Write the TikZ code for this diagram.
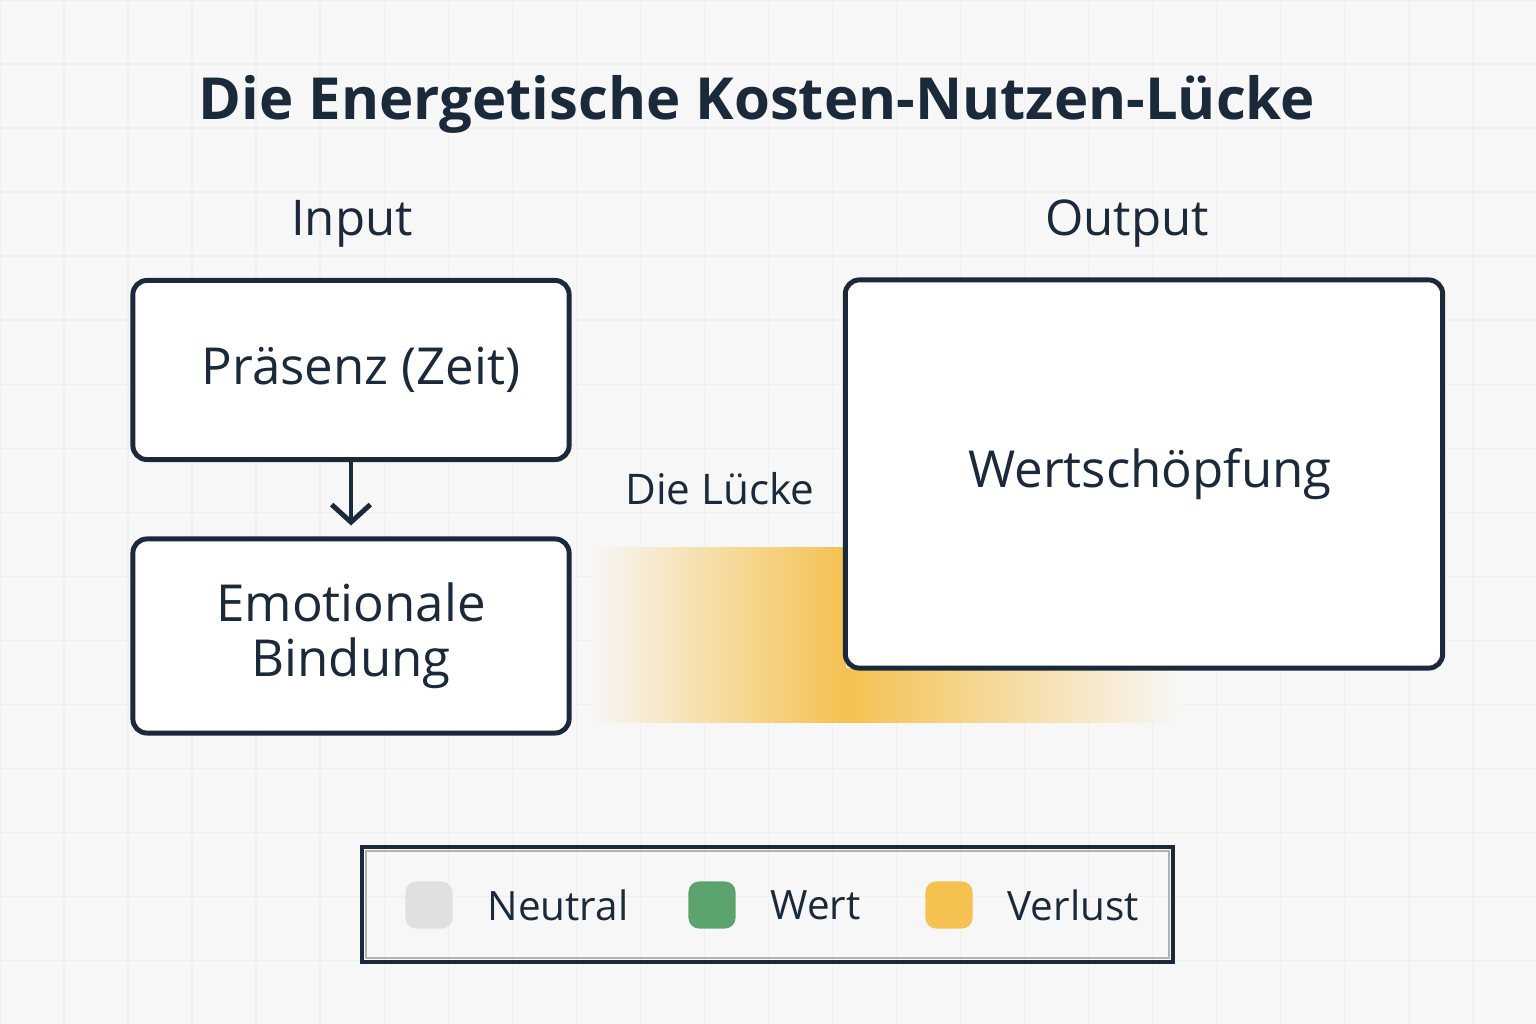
\documentclass[tikz,border=0pt]{standalone}
\usepackage{fontspec}
\setmainfont{Open Sans}
\usetikzlibrary{positioning, arrows.meta}
\definecolor{ink}{HTML}{1B2A3A}
\definecolor{bg}{HTML}{F7F7F7}
\definecolor{loss}{HTML}{F5C150}
\definecolor{gain}{HTML}{5BA46E}
\definecolor{neutral}{HTML}{E0E0E0}
\tikzset{
  box/.style={draw=ink, line width=1.4pt, rounded corners=4pt, fill=white, align=center, text=ink, font=\fontsize{14.5}{15.5}\selectfont},
  head/.style={text=ink, font=\fontsize{14}{17}\selectfont},
  key/.style={minimum size=0.47cm, rounded corners=3pt, inner sep=0pt},
  keytext/.style={text=ink, font=\fontsize{11.5}{14}\selectfont, anchor=west}
}
\begin{document}
\begin{tikzpicture}[x=0.01cm, y=-0.01cm]
  \useasboundingbox [fill=bg] (0,0) rectangle (1536,1024);
  \draw [white!88!gray, line width=0.4pt] (0,0) grid [step=0.64cm] (1536,1024);

  % title
  \node [text=ink, font=\fontsize{16.5}{20}\selectfont\bfseries] (title) at (757,104)
  {Die Energetische Kosten-Nutzen-Lücke};

  % the gap
  \shade [left color=bg, right color=loss] (590,547) rectangle (846,722);
  \shade [left color=loss, right color=bg] (846,668) rectangle (1180,722);

  % input side
  \node [head] (input) at (352,224) {Input};
  \node [box, minimum width=4.36cm, minimum height=1.79cm] (zeit) at (351,370) {\hspace*{0.2cm}Präsenz (Zeit)};
  \node [box, minimum width=4.36cm, minimum height=1.94cm] (bindung) at (351,636) {Emotionale\\Bindung};
  \draw [ink, line width=1.4pt, -{Straight Barb[length=5pt,width=11pt]}] (zeit) -- ([yshift=0.11cm]bindung.north);

  % output side
  \node [head] (output) at (1127,224) {Output};
  \node [box, minimum width=5.97cm, minimum height=3.88cm] (wert) at (1144,474) {};
  \node [text=ink, font=\fontsize{14.5}{17}\selectfont] (wlabel) at (1150,474) {Wertschöpfung};
  \node [text=ink, font=\fontsize{12}{15}\selectfont] (luecke) at (720,489) {Die Lücke};

  % legend
  \draw [ink, line width=1.4pt] (362,847) rectangle (1173,962);
  \draw [gray!60, line width=0.6pt] (366,851) rectangle (1169,958);
  \node [key, fill=neutral] (kneutral) at (429,905) {};
  \node [keytext, right=0.22cm of kneutral] (lneutral) {Neutral};
  \node [key, fill=gain] (kwert) at (712,905) {};
  \node [keytext, right=0.22cm of kwert] (lwert) {Wert};
  \node [key, fill=loss] (kverlust) at (949,905) {};
  \node [keytext, right=0.22cm of kverlust] (lverlust) {Verlust};
\end{tikzpicture}
\end{document}
